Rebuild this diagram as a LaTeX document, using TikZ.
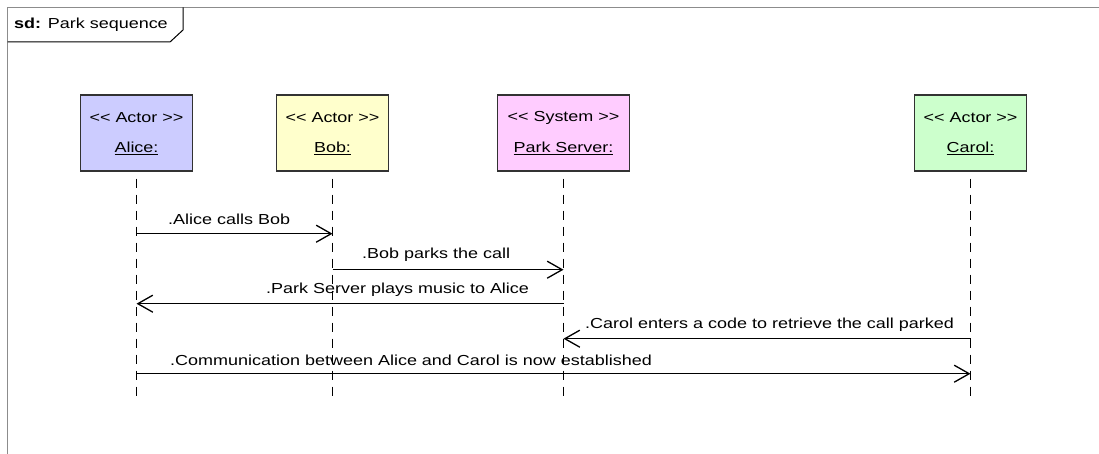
\documentclass[tikz,border=0pt]{standalone}
\usepackage{fontspec}
\newfontfamily\umlfont{Liberation Sans}[FakeStretch=1.24]
\usetikzlibrary{arrows.meta,calc}
\definecolor{framegray}{RGB}{140,140,140}
\definecolor{edgegray}{RGB}{50,50,50}
\definecolor{actorblue}{RGB}{204,204,255}
\definecolor{actoryellow}{RGB}{255,255,204}
\definecolor{systempink}{RGB}{255,204,255}
\definecolor{actorgreen}{RGB}{204,255,204}
\newcommand\stereo[1]{<\kern0pt< #1 >\kern0pt>}
\tikzset{
  every node/.style={font=\umlfont\fontsize{14.5}{16}\selectfont, inner sep=0pt},
  headbox/.style={draw=edgegray, line width=1.4pt, minimum height=76pt, minimum width=112pt},
  lifeline/.style={line width=1.2pt, dash pattern=on 9pt off 7pt, dash phase=9pt},
  msg/.style={line width=1.4pt, -{Straight Barb[length=15pt,width=17pt,line width=1.3pt]}},
  msglabel/.style={anchor=west},
}
\begin{document}
\begin{tikzpicture}[x=1pt,y=-1pt]
  \useasboundingbox (0,0) rectangle (1099,454);

  % diagram frame and its name tab
  \draw[framegray, line width=1.6pt] (7.5,454) -- (7.5,7.5) -- (1099,7.5);
  \draw[black, line width=1pt] (7.5,42) -- (170,42) -- (183,30) -- (183,7.5);
  \node[anchor=west] (title) at (14,25) {\textbf{sd:} Park sequence};

  % lifeline heads
  \node[headbox, fill=actorblue]   (alice)  at (136.5,133) {};
  \node[headbox, fill=actoryellow] (bob)    at (332.5,133) {};
  \node[headbox, fill=systempink, minimum width=132pt] (server) at (563.5,133) {};
  \node[headbox, fill=actorgreen]  (carol)  at (970.5,133) {};

  \foreach \n/\s/\t in {alice/Actor/Alice:, bob/Actor/Bob:, server/System/Park Server:, carol/Actor/Carol:}{
    \node (\n-st) at ($(\n.center)+(0,-15)$) {\stereo{\s}};
    \node (\n-nm) at ($(\n.center)+(0,15)$) {\underline{\t}};
  }

  % lifelines
  \foreach \n in {alice,bob,server,carol}{
    \draw[lifeline] (\n.south) -- ++(0,227) coordinate (\n-end);
  }

  % messages
  \node[msglabel] (l1) at (168,219) {.Alice calls Bob};
  \draw[msg] ($(alice.south)+(0,62)$) -- ($(bob.south)+(0,62)$);

  \node[msglabel] (l2) at (362,255) {.Bob parks the call};
  \draw[msg] ($(bob.south)+(0,98)$) -- ($(server.south)+(0,98)$);

  \node[msglabel] (l3) at (266,290) {.Park Server plays music to Alice};
  \draw[msg] ($(server.south)+(0,132)$) -- ($(alice.south)+(0,132)$);

  \node[msglabel] (l4) at (585,325) {.Carol enters a code to retrieve the call parked};
  \draw[msg] ($(carol.south)+(0,167)$) -- ($(server.south)+(0,167)$);

  \node[msglabel] (l5) at (170,360) {.Communication between Alice and Carol is now established};
  \draw[msg] ($(alice.south)+(0,202)$) -- ($(carol.south)+(0,202)$);
\end{tikzpicture}
\end{document}
